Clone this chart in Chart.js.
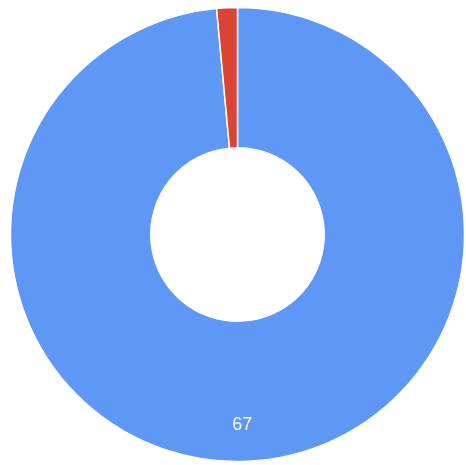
<!DOCTYPE html>
<html>
<head>
<meta charset="utf-8">
<script src="https://cdn.jsdelivr.net/npm/chart.js@4"></script>
<style>
  html, body { margin: 0; padding: 0; background: #fff; }
  #wrap { position: relative; width: 466px; height: 465px; }
</style>
</head>
<body>
<div id="wrap"><canvas id="c" width="466" height="465"></canvas></div>
<script>
const categories = ['A', 'B'];
const values = [67, 1];
const colors = ['#5e97f6', '#db4437'];
const shownLabels = ['67', ''];

const sliceLabelPlugin = {
  id: 'sliceLabels',
  afterDatasetsDraw(chart) {
    const ctx = chart.ctx;
    const meta = chart.getDatasetMeta(0);
    ctx.save();
    ctx.fillStyle = '#ffffff';
    ctx.font = '18px "Liberation Sans", Arial, sans-serif';
    ctx.textAlign = 'center';
    ctx.textBaseline = 'middle';
    meta.data.forEach((arc, i) => {
      const txt = shownLabels[i];
      if (!txt) return;
      const p = arc.getProps(['x', 'y', 'startAngle', 'endAngle', 'outerRadius', 'innerRadius'], true);
      const mid = (p.startAngle + p.endAngle) / 2;
      const r = p.outerRadius * 0.84;
      ctx.fillText(txt, p.x + Math.cos(mid) * r - 4, p.y + Math.sin(mid) * r);
    });
    ctx.restore();
  }
};

new Chart(document.getElementById('c'), {
  type: 'doughnut',
  data: {
    labels: categories,
    datasets: [{
      data: values,
      backgroundColor: colors,
      borderColor: '#ffffff',
      borderWidth: 1.5,
      hoverOffset: 0
    }]
  },
  options: {
    responsive: false,
    animation: false,
    radius: 227,
    cutout: 87,
    layout: { padding: { left: 9, right: 0, top: 4, bottom: 0 } },
    plugins: {
      legend: { display: false },
      tooltip: { enabled: false }
    }
  },
  plugins: [sliceLabelPlugin]
});
</script>
</body>
</html>
